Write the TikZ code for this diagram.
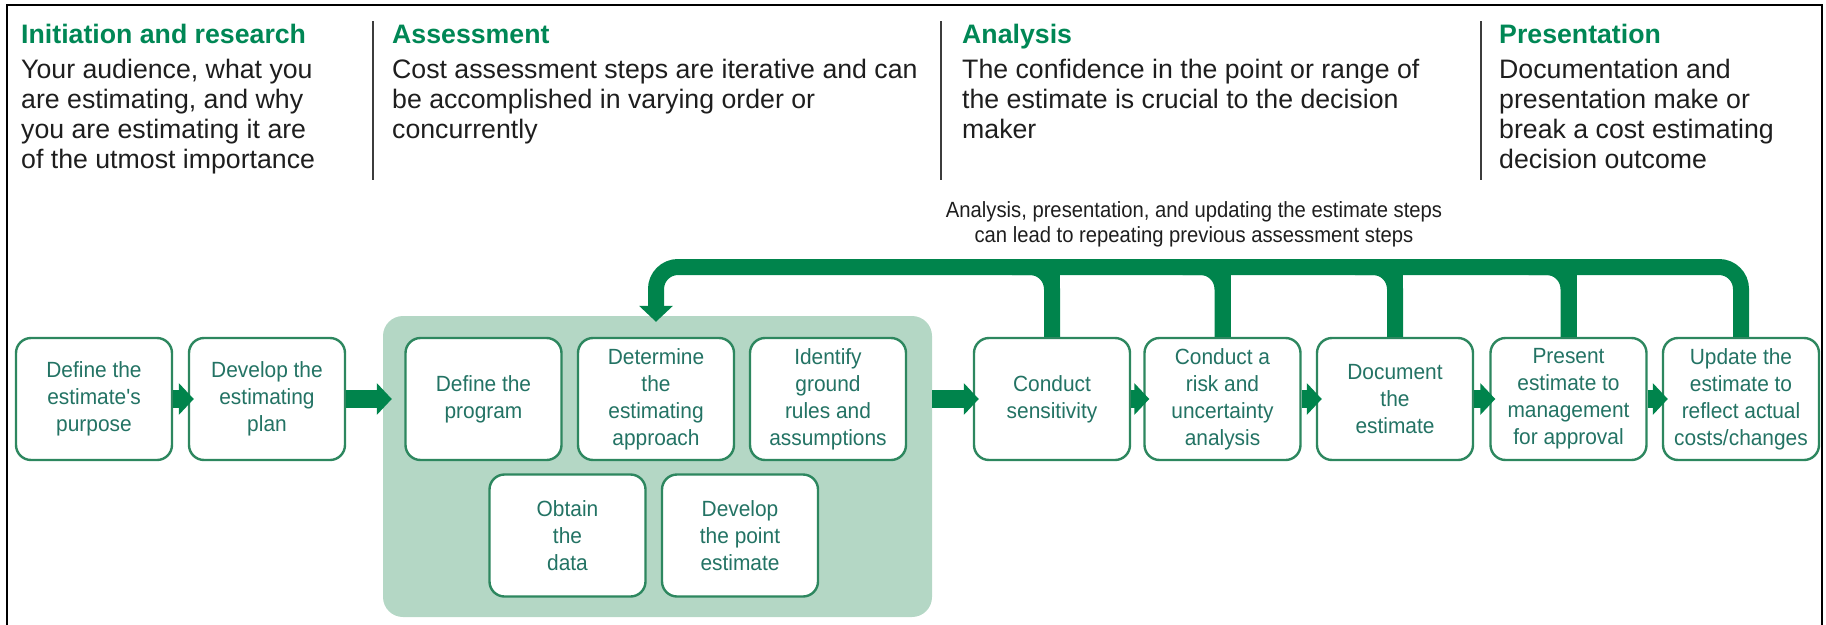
\documentclass[tikz,border=0pt]{standalone}
\usepackage{fontspec}
\setmainfont{Liberation Sans}
\newfontfamily\boxfont[FakeStretch=0.95]{Liberation Sans}
\newfontfamily\notefont[FakeStretch=0.92]{Liberation Sans}
\usetikzlibrary{arrows.meta,calc}

\definecolor{flowgreen}{RGB}{0,132,76}
\definecolor{headgreen}{RGB}{0,135,85}
\definecolor{boxline}{RGB}{45,135,95}
\definecolor{boxtext}{RGB}{35,115,100}
\definecolor{panelfill}{RGB}{180,215,197}
\definecolor{bodytext}{RGB}{30,30,30}
\definecolor{rulegray}{RGB}{60,60,60}

\begin{document}
\begin{tikzpicture}[x=1pt,y=-1pt,
  stepbox/.style={draw=boxline, line width=2.4pt, fill=white, rounded corners=15pt,
    minimum width=156pt, minimum height=122pt, inner sep=0pt, align=center,
    text=boxtext, font=\boxfont\fontsize{22}{27}\selectfont},
  panelbox/.style={fill=panelfill, rounded corners=20pt, minimum width=549pt,
    minimum height=301pt, inner sep=0pt},
  flow/.style={draw=flowgreen, line width=18pt, shorten >=-6pt,
    -{Triangle[width=31pt,length=15pt]}},
  feedback/.style={draw=flowgreen, line width=16pt, rounded corners=22pt},
  headline/.style={font=\bfseries\fontsize{26.7}{30}\selectfont, text=headgreen,
    inner sep=0pt, anchor=base west},
  bodyline/.style={font=\fontsize{26.7}{30}\selectfont, text=bodytext,
    inner sep=0pt, anchor=base west},
  note/.style={font=\notefont\fontsize{22}{25}\selectfont, text=bodytext,
    align=center, inner sep=0pt},
  divider/.style={draw=rulegray, line width=2pt}
]
\useasboundingbox (0,0) rectangle (1826,624);

% outer frame (open at the bottom edge)
\draw[line width=2.5pt, black] (7,640) -- (7,5) -- (1822,5) -- (1822,640);

% column headings
\node[headline] (h1) at (21,43.5) {Initiation and research};
\node[bodyline] (t1a) at (21,78.5) {Your audience, what you};
\node[bodyline] (t1b) at (21,108.5) {are estimating, and why};
\node[bodyline] (t1c) at (21,138) {you are estimating it are};
\node[bodyline] (t1d) at (21,168) {of the utmost importance};

\node[headline] (h2) at (392,43.5) {Assessment};
\node[bodyline] (t2a) at (392,78.5) {Cost assessment steps are iterative and can};
\node[bodyline] (t2b) at (392,108.5) {be accomplished in varying order or};
\node[bodyline] (t2c) at (392,138) {concurrently};

\node[headline] (h3) at (962,43.5) {Analysis};
\node[bodyline] (t3a) at (962,78.5) {The confidence in the point or range of};
\node[bodyline] (t3b) at (962,108.5) {the estimate is crucial to the decision};
\node[bodyline] (t3c) at (962,138) {maker};

\node[headline] (h4) at (1499,43.5) {Presentation};
\node[bodyline] (t4a) at (1499,78.5) {Documentation and};
\node[bodyline] (t4b) at (1499,108.5) {presentation make or};
\node[bodyline] (t4c) at (1499,138) {break a cost estimating};
\node[bodyline] (t4d) at (1499,168) {decision outcome};

% dividers between columns
\draw[divider] (373,21) -- (373,180);
\draw[divider] (941,21) -- (941,180);
\draw[divider] (1481,21) -- (1481,180);

% feedback note
\node[note] (fbnote) at (1194,224) {Analysis, presentation, and updating the estimate steps\\can lead to repeating previous assessment steps};

% assessment panel
\node[panelbox] (pnl) at (657.5,466.5) {};

% process steps
\node[stepbox] (b1) at (94,399) {Define the\\estimate's\\purpose};
\node[stepbox] (b2) at (267,399) {Develop the\\estimating\\plan};
\node[stepbox] (b3) at (483.5,399) {Define the\\program};
\node[stepbox] (b4) at (656,399) {Determine\\the\\estimating\\approach};
\node[stepbox] (b5) at (828,399) {Identify\\ground\\rules and\\assumptions};
\node[stepbox] (b6) at (567.5,535.5) {Obtain\\the\\data};
\node[stepbox] (b7) at (740,535.5) {Develop\\the point\\estimate};
\node[stepbox] (b8) at (1052,399) {Conduct\\sensitivity};
\node[stepbox] (b9) at (1222.5,399) {Conduct a\\risk and\\uncertainty\\analysis};
\node[stepbox] (b10) at (1395,399) {Document\\the\\estimate};
\node[stepbox] (b11) at (1568.5,399) {Present\\estimate to\\management\\for approval};
\node[stepbox] (b12) at (1741,399) {Update the\\estimate to\\reflect actual\\costs/changes};

% forward flow
\draw[flow] (b1) -- (b2);
\draw[flow, shorten >=-9pt] (b2.east) -- (b2.east -| pnl.west);
\draw[flow] (b2.east -| pnl.east) -- (b8.west);
\draw[flow] (b8) -- (b9);
\draw[flow] (b9) -- (b10);
\draw[flow] (b10) -- (b11);
\draw[flow] (b11) -- (b12);

% feedback loop back to the assessment steps
\coordinate (bar) at (0,267);
\draw[feedback, -{Triangle[width=33pt,length=16pt]}]
  (b12.north) -- (b12.north |- bar) -- (b4.north |- bar) -- ([yshift=15pt]b4.north);
\foreach \b in {b8,b9,b10,b11}{
  \draw[feedback, rounded corners=0pt] (\b.north) -- (\b.north |- bar);
  \draw[feedback] (\b.north) -- (\b.north |- bar) -- ++(-40,0);
}
\end{tikzpicture}
\end{document}
